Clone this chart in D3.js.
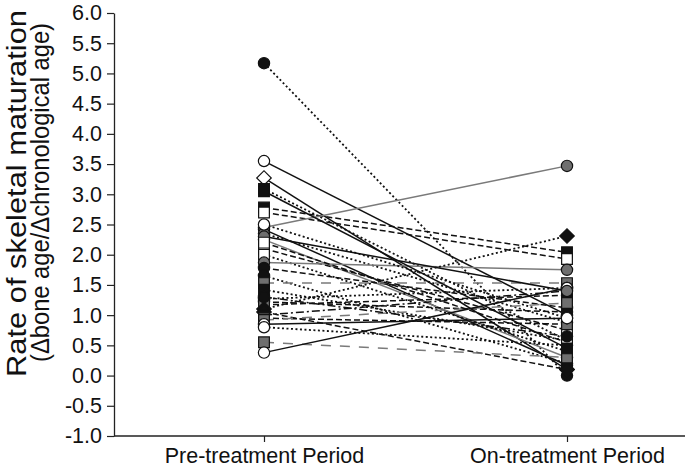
<!DOCTYPE html>
<html>
<head>
<meta charset="utf-8">
<script src="https://cdn.jsdelivr.net/npm/d3@7"></script>
<style>
  html, body { margin: 0; padding: 0; background: #fff; }
  svg { display: block; font-family: "Liberation Sans", Arial, Helvetica, sans-serif; }
</style>
</head>
<body>
<svg id="chart" width="685" height="472"></svg>
<script>
// ---------- data ----------
const categories = ["Pre-treatment Period", "On-treatment Period"];
const yTickValues = [-1.0, -0.5, 0.0, 0.5, 1.0, 1.5, 2.0, 2.5, 3.0, 3.5, 4.0, 4.5, 5.0, 5.5, 6.0];

// per-subject rate of skeletal maturation
const preValues = [5.17, 3.55, 3.27, 3.09, 2.78, 2.70, 2.45, 2.42, 2.35, 2.25, 2.10, 2.00, 1.87, 1.78, 1.65,
                   1.53, 1.42, 1.27, 1.22, 1.17, 1.10, 1.05, 1.00, 0.95, 0.92, 0.85, 0.80, 0.55, 0.38,
                   2.30, 2.20, 3.05, 2.50, 1.30];
const onValues  = [0.00, 1.00, 0.10, 0.58, 2.04, 1.93, 3.47, 0.17, 0.88, 0.30, 0.75, 0.40, 1.75, 1.12, 0.20,
                   1.53, 0.58, 1.45, 1.05, 1.33, 2.31, 0.10, 1.40, 0.85, 1.20, 0.95, 0.50, 0.30, 1.45,
                   1.40, 0.55, 0.45, 0.95, 0.65];
// marker kind per subject
const markerShapes = ["circle","circle","diamond","square","square","square","circle","circle","circle","circle","square","square","circle","circle","circle",
                      "square","square","circle","circle","square","diamond","diamond","square","square","square","circle","circle","square","circle",
                      "circle","square","square","circle","circle"];
const markerTones  = ["black","white","white","black","black","white","gray","gray","gray","gray","white","white","gray","black","black",
                      "gray","black","black","black","gray","black","black","black","gray","gray","white","white","gray","white",
                      "gray","white","black","white","black"];
const lineKinds    = ["dotted","solid","solid","dotted","dashed","dashed","solid","solid","dotted","solid","dashed","dotted","solid","dashed","dotted",
                      "longdash","dotted","dotted","dashed","dashed","dotted","dashed","dashdot","dashed","longdash","solid","dotted","longdash","solid",
                      "solid","dashed","solid","dotted","dashdot"];
const lineTones    = ["black","black","black","black","black","black","gray","black","black","gray","black","black","gray","black","black",
                      "gray","black","black","black","black","black","black","black","black","gray","black","black","gray","black",
                      "black","black","black","black","black"];

// ---------- styles ----------
const toneColor = { black: "#111111", white: "#ffffff", gray: "#6f6f6f" };
const strokeTone = { black: "#111111", gray: "#7a7a7a" };
const dashes = { solid: null, dotted: "2,2.5", dashed: "6,3", longdash: "10,9", dashdot: "8,3,2,3" };

const svg = d3.select("#chart");
const axisLeftX = 114, axisRightX = 685, plotTop = 13, plotBottom = 436;

const y = d3.scaleLinear().domain([-1, 6]).range([plotBottom, plotTop]);
const x = d3.scalePoint().domain(categories).range([264, 567]);

// ---------- axes ----------
const yAxis = d3.axisLeft(y).tickValues(yTickValues).tickFormat(d => d.toFixed(1)).tickSize(7).tickSizeOuter(0).tickPadding(5);
const gy = svg.append("g").attr("transform", `translate(${axisLeftX},0)`).call(yAxis);
gy.select(".domain").attr("stroke", "#222").attr("stroke-width", 1.3);
gy.selectAll(".tick line").attr("stroke", "#222").attr("stroke-width", 1.2);
gy.selectAll(".tick text").attr("font-size", 21.5).attr("fill", "#111").attr("font-family", "Liberation Sans, Arial, sans-serif");

const xAxis = d3.axisBottom(x).tickSize(6).tickSizeOuter(0).tickPadding(6);
const gx = svg.append("g").attr("transform", `translate(0,${plotBottom})`).call(xAxis);
gx.select(".domain").remove();
gx.append("line").attr("x1", axisLeftX).attr("x2", axisRightX).attr("y1", 0).attr("y2", 0)
  .attr("stroke", "#222").attr("stroke-width", 1.3);
gx.selectAll(".tick line").attr("stroke", "#222").attr("stroke-width", 1.2);
gx.selectAll(".tick text").attr("font-size", 21.5).attr("fill", "#111").attr("font-family", "Liberation Sans, Arial, sans-serif");

// y axis title (two lines)
svg.append("text")
  .attr("transform", "translate(26,193.5) rotate(-90)")
  .attr("text-anchor", "middle")
  .attr("font-size", 27)
  .attr("fill", "#111")
  .attr("textLength", 367).attr("lengthAdjust", "spacingAndGlyphs")
  .text("Rate of skeletal maturation");
svg.append("text")
  .attr("transform", "translate(49,192.5) rotate(-90)")
  .attr("text-anchor", "middle")
  .attr("font-size", 25)
  .attr("fill", "#111")
  .attr("textLength", 339).attr("lengthAdjust", "spacingAndGlyphs")
  .text("(\u0394bone age/\u0394chronological age)");

// ---------- subjects ----------
const subjects = preValues.map((p, i) => ({
  pre: p, on: onValues[i], shape: markerShapes[i], tone: markerTones[i],
  kind: lineKinds[i], ltone: lineTones[i]
}));

const lines = svg.append("g");
lines.selectAll("line").data(subjects).join("line")
  .attr("x1", x(categories[0])).attr("x2", x(categories[1]))
  .attr("y1", d => y(d.pre)).attr("y2", d => y(d.on))
  .attr("stroke", d => strokeTone[d.ltone])
  .attr("stroke-width", d => d.kind === "dotted" ? 1.8 : 1.5)
  .attr("stroke-dasharray", d => dashes[d.kind]);

const symbolFor = s => s === "circle" ? d3.symbol(d3.symbolCircle, 100)
                    : d3.symbol(d3.symbolSquare, s === "diamond" ? 105 : 115);

const markers = [];
subjects.forEach(d => {
  markers.push({ cat: categories[0], v: d.pre, shape: d.shape, tone: d.tone });
  markers.push({ cat: categories[1], v: d.on, shape: d.shape, tone: d.tone });
});

svg.append("g").selectAll("path").data(markers).join("path")
  .attr("d", d => symbolFor(d.shape)())
  .attr("transform", d => `translate(${x(d.cat)},${y(d.v)})` + (d.shape === "diamond" ? " rotate(45)" : ""))
  .attr("fill", d => toneColor[d.tone])
  .attr("stroke", "#111")
  .attr("stroke-width", 1.2);
</script>
</body>
</html>
